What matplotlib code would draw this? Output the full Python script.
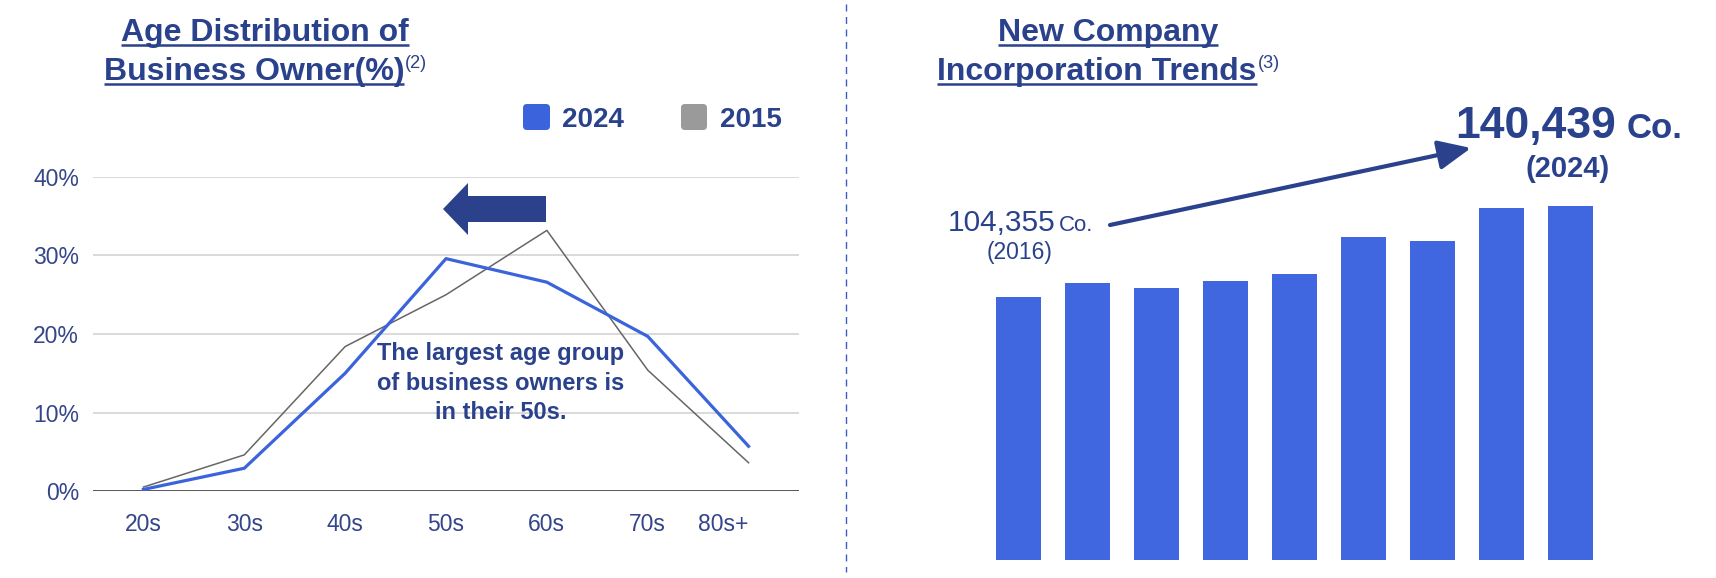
import matplotlib
matplotlib.use('Agg')
import matplotlib.pyplot as plt
from matplotlib.patches import FancyArrow, FancyBboxPatch

# left chart: share of business owners by age group (%)
ages = ['20s', '30s', '40s', '50s', '60s', '70s', '80s+']
share_2024 = [0.2, 2.9, 15.0, 29.6, 26.6, 19.7, 5.7]
share_2015 = [0.5, 4.6, 18.4, 25.0, 33.2, 15.4, 3.6]
pct_ticks = [0, 10, 20, 30, 40]

# right chart: new company incorporations
years = [2016, 2017, 2018, 2019, 2020, 2021, 2022, 2023, 2024]
companies = [104355, 109900, 107900, 110700, 113500, 128200, 126600, 139700, 140439]

W, H = 1716, 578
NAVY = '#2a418c'
TICK = '#34458a'
BLUE = '#3b63db'
BAR = '#4066e0'
GRAY = '#666666'

plt.rcParams['font.family'] = ['Liberation Sans', 'DejaVu Sans']

fig = plt.figure(figsize=(W / 100, H / 100), dpi=100)


def box(l, t, r, b):
    # pixel box (top-left origin) -> figure fractions
    return [l / W, 1 - b / H, (r - l) / W, (b - t) / H]


## Left: line chart
ax1 = fig.add_axes(box(93, 177, 799, 491))
x = list(range(len(ages)))
ax1.plot(x, share_2015, color=GRAY, lw=1.1, zorder=3)
ax1.plot(x, share_2024, color=BLUE, lw=2.3, zorder=4)
ax1.set_xlim(-0.5, 6.5)
ax1.set_ylim(0, 40)
ax1.set_yticks(pct_ticks, labels=[f'{v}%' for v in pct_ticks])
ax1.set_xticks(x, labels=ages)
ax1.grid(axis='y', color='#d0d0d0', lw=1.1)
ax1.set_axisbelow(True)
for s in ax1.spines.values():
    s.set_visible(False)
ax1.axhline(0, color='#333333', lw=1.8, zorder=2)
ax1.tick_params(length=0, labelsize=16.5, labelcolor=TICK)
ax1.tick_params(axis='x', pad=16)
ax1.tick_params(axis='y', pad=10)
ax1.get_xticklabels()[-1].set_ha('right')

## Right: bar chart
ax2 = fig.add_axes(box(984, 177, 1605, 560))
ax2.bar(range(len(years)), companies, width=0.65, color=BAR)
ax2.set_xlim(-0.5, len(years) - 0.5)
ax2.set_ylim(0, 152000)
ax2.axis('off')

## Overlay in pixel coordinates for titles / annotations
ov = fig.add_axes([0, 0, 1, 1])
ov.set_xlim(0, W)
ov.set_ylim(H, 0)
ov.axis('off')

# divider
ov.plot([846, 846], [4, 572], color='#3d5cc0', lw=1, ls=(0, (5, 4)))


def title(cx, line1, line2, sup):
    t1 = ov.text(cx, 41, line1, ha='center', va='baseline', fontsize=23,
                 fontweight='bold', color=NAVY)
    t2 = ov.text(0, 80, line2, ha='left', va='baseline', fontsize=23,
                 fontweight='bold', color=NAVY)
    ts = ov.text(0, 68, sup, ha='left', va='baseline', fontsize=13, color=NAVY)
    return cx, t1, t2, ts


titles = [title(265, 'Age Distribution of', 'Business Owner(%)', '(2)'),
          title(1108, 'New Company', 'Incorporation Trends', '(3)')]

# legend
ov.add_patch(FancyBboxPatch((523, 104), 27, 26, boxstyle='round,pad=0,rounding_size=4',
                            color=BLUE, lw=0))
ov.text(562, 127, '2024', ha='left', va='baseline', fontsize=20, fontweight='bold', color=NAVY)
ov.add_patch(FancyBboxPatch((681, 104), 26, 26, boxstyle='round,pad=0,rounding_size=4',
                            color='#9a9a9a', lw=0))
ov.text(720, 127, '2015', ha='left', va='baseline', fontsize=20, fontweight='bold', color=NAVY)

# shift arrow + note
ov.add_patch(FancyArrow(546, 209, -103, 0, width=26, head_width=52, head_length=25,
                        length_includes_head=True, color='#2b418b', lw=0))
ov.text(501, 383, 'The largest age group\nof business owners is\nin their 50s.',
        ha='center', va='center', fontsize=17, fontweight='bold', color=NAVY,
        linespacing=1.38)

# right annotations
ov.text(1055, 231, f'{companies[0]:,}', ha='right', va='baseline', fontsize=21.5, color=NAVY)
ov.text(1059, 231, 'Co.', ha='left', va='baseline', fontsize=16, color=NAVY)
ov.text(1020, 252, f'({years[0]})', ha='center', va='center', fontsize=16.5, color=NAVY)
ov.annotate('', xy=(1471, 148), xytext=(1110, 225),
            arrowprops=dict(arrowstyle='-|>,head_length=1.0,head_width=0.45',
                            color=NAVY, lw=3, shrinkA=0, shrinkB=0, mutation_scale=20))
ov.text(1455, 138, f'{companies[-1]:,}', ha='left', va='baseline', fontsize=32,
        fontweight='bold', color=NAVY)
ov.text(1627, 138, 'Co.', ha='left', va='baseline', fontsize=25, fontweight='bold', color=NAVY)
ov.text(1568, 169, f'({years[-1]})', ha='center', va='center', fontsize=21,
        fontweight='bold', color=NAVY)

# centre second title lines incl. superscript, then underline
fig.canvas.draw()
r = fig.canvas.get_renderer()
for cx, t1, t2, ts in titles:
    w1 = t1.get_window_extent(r).width
    w2 = t2.get_window_extent(r).width
    ws = ts.get_window_extent(r).width
    x0 = cx - (w2 + ws) / 2
    t2.set_x(x0)
    ts.set_x(x0 + w2 + 1)
    ov.plot([cx - w1 / 2, cx + w1 / 2], [44.5, 44.5], color=NAVY, lw=1.8,
            solid_capstyle='butt')
    ov.plot([x0, x0 + w2], [83.5, 83.5], color=NAVY, lw=1.8, solid_capstyle='butt')

fig.savefig('out.png', dpi=100)
